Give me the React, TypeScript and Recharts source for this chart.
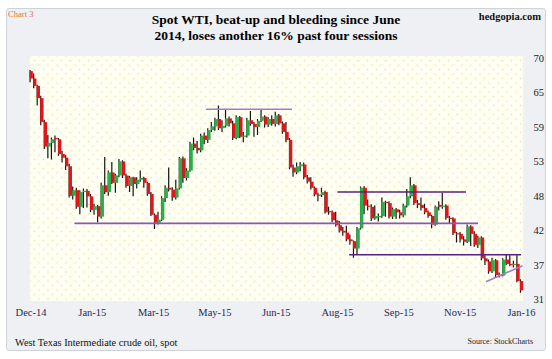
import React from "react";
import { ComposedChart, Bar, XAxis, YAxis, ReferenceLine } from "recharts";

// two-session candles, Dec-14 .. Jan-16
const opens = [
  68.2, 67.0, 65.8, 63.8, 59.9, 55.9, 56.5, 57.3, 57.1, 54.7,
  54.1, 52.7, 47.9, 48.8, 46.1, 48.5, 48.7, 47.8, 45.6, 46.2,
  44.5, 49.6, 48.5, 51.7, 50.0, 51.2, 53.5, 51.2, 49.5, 50.9,
  49.8, 50.5, 50.8, 50.0, 48.2, 44.8, 43.5, 44.0, 47.5, 49.2,
  48.9, 47.6, 49.1, 54.0, 50.8, 52.0, 56.4, 55.7, 55.3, 57.7,
  57.0, 58.6, 59.2, 60.4, 58.9, 59.3, 60.5, 59.7, 57.3, 60.7,
  57.5, 57.7, 60.2, 59.6, 59.1, 60.1, 60.8, 59.5, 60.4, 59.6,
  61.0, 59.7, 58.3, 57.0, 52.5, 51.7, 52.7, 53.0, 50.9, 50.2,
  49.2, 48.1, 48.0, 48.5, 45.4, 45.2, 43.9, 43.1, 42.2, 41.9,
  40.8, 40.5, 39.3, 42.6, 49.2, 46.3, 46.1, 44.2, 44.4, 44.6,
  46.9, 46.7, 44.5, 45.7, 45.2, 44.7, 46.3, 47.8, 49.6, 46.7,
  46.4, 45.9, 45.2, 44.6, 43.2, 46.4, 46.1, 46.3, 44.3, 44.2,
  41.8, 41.7, 40.8, 40.4, 42.9, 41.7, 39.9, 41.1, 37.7, 37.2,
  35.6, 37.4, 35.0, 34.9, 37.5, 36.8, 36.6, 36.8, 34.0,
];
const highs = [
  68.4, 67.8, 66.0, 64.2, 60.3, 57.8, 57.4, 57.7, 57.3, 55.2,
  54.5, 53.1, 49.4, 49.2, 48.8, 49.1, 49.0, 48.2, 46.6, 46.4,
  50.0, 54.2, 52.0, 53.4, 51.5, 53.9, 53.7, 51.5, 51.1, 51.0,
  50.9, 52.0, 51.0, 50.2, 48.5, 45.0, 45.3, 47.8, 49.6, 52.5,
  49.3, 50.5, 54.2, 54.3, 52.4, 56.7, 57.4, 56.8, 58.0, 58.2,
  58.9, 59.9, 60.6, 62.6, 60.2, 61.9, 60.8, 60.1, 61.0, 60.9,
  58.3, 60.6, 61.7, 59.9, 60.4, 61.9, 61.0, 60.7, 61.0, 61.6,
  61.2, 60.0, 59.9, 57.3, 53.0, 53.3, 53.4, 53.3, 51.3, 50.9,
  49.4, 48.4, 49.2, 48.7, 46.1, 45.5, 45.3, 43.8, 42.8, 43.0,
  41.6, 40.6, 42.8, 49.4, 49.5, 47.3, 46.5, 46.3, 45.0, 47.6,
  47.1, 47.0, 46.0, 45.9, 45.6, 46.6, 49.0, 50.9, 49.8, 47.2,
  47.6, 46.6, 45.5, 44.8, 46.3, 47.0, 48.4, 46.5, 44.6, 44.4,
  42.0, 42.0, 41.3, 43.2, 43.1, 42.1, 41.4, 41.3, 38.2, 37.5,
  37.8, 37.6, 35.4, 37.7, 38.3, 38.2, 37.3, 38.2, 34.3,
];
const lows = [
  66.4, 65.4, 62.6, 59.4, 55.5, 54.0, 53.8, 55.0, 54.4, 53.3,
  52.1, 47.6, 47.3, 45.8, 44.9, 45.9, 46.0, 45.2, 44.8, 43.6,
  44.2, 48.2, 47.9, 49.8, 48.4, 50.9, 50.8, 49.2, 48.5, 47.8,
  49.1, 50.2, 49.2, 47.9, 44.6, 42.5, 43.2, 43.8, 46.9, 48.6,
  47.1, 47.3, 48.9, 50.0, 50.4, 51.8, 55.3, 54.8, 55.0, 56.3,
  56.5, 58.3, 58.5, 58.6, 58.3, 59.0, 59.2, 57.0, 57.1, 57.3,
  56.6, 57.4, 59.3, 57.5, 57.8, 59.9, 59.0, 59.1, 59.3, 59.2,
  59.4, 58.0, 56.6, 52.2, 51.0, 51.4, 51.9, 50.6, 49.9, 48.9,
  47.8, 47.0, 47.7, 45.0, 44.8, 43.6, 42.9, 41.9, 41.4, 40.5,
  39.9, 37.8, 38.3, 42.4, 44.9, 45.5, 43.8, 44.0, 43.7, 44.3,
  44.5, 44.2, 44.1, 44.1, 44.2, 44.4, 46.0, 47.5, 46.4, 45.9,
  45.5, 44.9, 44.3, 42.6, 43.0, 45.5, 45.8, 44.0, 43.3, 41.5,
  40.3, 40.3, 39.8, 40.2, 39.7, 39.6, 39.4, 37.4, 36.6, 35.2,
  35.3, 34.6, 34.6, 34.8, 36.6, 36.4, 36.2, 33.8, 32.1,
];
const closes = [
  67.0, 65.8, 63.8, 59.9, 55.9, 56.5, 57.1, 57.1, 54.7, 54.1,
  52.7, 47.9, 48.8, 46.1, 48.5, 48.7, 47.8, 45.6, 46.2, 44.5,
  49.6, 48.5, 51.7, 50.0, 51.2, 53.5, 51.2, 49.5, 50.9, 49.8,
  50.5, 50.8, 50.0, 48.2, 44.8, 43.5, 44.0, 47.5, 49.2, 48.9,
  47.6, 49.1, 54.0, 50.8, 52.0, 56.4, 55.7, 55.3, 57.7, 57.0,
  58.6, 59.2, 60.4, 58.9, 59.3, 60.5, 59.7, 57.3, 60.7, 57.5,
  57.7, 60.2, 59.6, 59.1, 60.1, 60.8, 59.5, 60.4, 59.6, 61.0,
  59.7, 58.3, 57.0, 52.5, 51.7, 52.7, 53.0, 50.9, 50.2, 49.2,
  48.1, 48.0, 48.5, 45.2, 45.2, 43.9, 43.1, 42.2, 41.9, 40.8,
  40.5, 39.3, 42.6, 49.2, 46.3, 46.1, 44.2, 44.6, 44.6, 46.9,
  46.7, 44.5, 45.7, 45.2, 44.7, 46.3, 47.8, 49.6, 46.7, 46.4,
  45.9, 45.2, 44.6, 43.2, 46.1, 46.1, 46.3, 44.3, 44.2, 41.8,
  41.7, 40.8, 40.4, 42.9, 41.7, 39.9, 41.1, 37.7, 37.2, 35.6,
  37.4, 35.0, 34.9, 37.5, 36.8, 36.6, 36.8, 34.0, 32.5,
];

const xTickLabels = ["Dec-14", "Jan-15", "Mar-15", "May-15", "Jun-15", "Aug-15", "Sep-15", "Nov-15", "Jan-16"];
const yTickValues = [31, 36.62, 42.24, 47.86, 53.48, 59.1, 64.72, 70.34];

// hand-drawn support / resistance lines (candle index, price)
const trendLines = [
  { x1: 12.2, y1: 43.4, x2: 125.8, y2: 43.4, color: "#8a58b4" },
  { x1: 49.2, y1: 62.0, x2: 73.4, y2: 62.0, color: "#a27cc6" },
  { x1: 86.2, y1: 48.5, x2: 122.4, y2: 48.5, color: "#5a1f80" },
  { x1: 89.5, y1: 38.3, x2: 137.9, y2: 38.3, color: "#5a1f80" },
  { x1: 128.0, y1: 33.9, x2: 138.3, y2: 36.5, color: "#a27cc6" },
];

const FONT = '"Liberation Serif", "DejaVu Serif", serif';

const data = opens.map((o, i) => ({
  i,
  o,
  h: highs[i],
  l: lows[i],
  c: closes[i],
  range: [lows[i], highs[i]],
}));

const xTicks = xTickLabels.map((_, k) => (k * (opens.length - 1)) / (xTickLabels.length - 1));

const Candle = (props: any) => {
  const { x, y, width, height, payload } = props;
  if (!payload) return null;
  const { o, h, l, c } = payload;
  const top = Math.min(y, y + height);
  const hh = Math.abs(height);
  const cx = x + width / 2;
  const k = h === l ? 0 : hh / (h - l);
  const yO = top + (h - o) * k;
  const yC = top + (h - c) * k;
  const bodyTop = Math.min(yO, yC);
  const bodyH = Math.max(Math.abs(yC - yO), 1.2);
  const up = c >= o;
  return (
    <g>
      <line x1={cx - 0.7} x2={cx - 0.7} y1={top} y2={top + hh} stroke="#141414" strokeWidth={1.2} />
      <rect x={cx - 1.2} y={bodyTop} width={3.3} height={bodyH} fill={up ? "#2aae4a" : "#df161b"} />
    </g>
  );
};

export default function App() {
  return (
    <div style={{ position: "relative", width: 552, height: 359, background: "#fff", fontFamily: FONT }}>
      <style>{`body{margin:0}`}</style>
      <div
        style={{
          position: "absolute",
          left: 6,
          top: 8,
          width: 538,
          height: 341,
          border: "1px solid #cfd2d8",
          borderRadius: 3,
          background: "#eef0f4",
        }}
      />
      <div
        style={{
          position: "absolute",
          left: 30,
          top: 56,
          width: 493,
          height: 245,
          backgroundColor: "#fffff4",
          backgroundImage:
            "radial-gradient(circle at center, #efe6ad 0.75px, rgba(255,255,255,0) 1.15px), radial-gradient(circle at center, #efe6ad 0.75px, rgba(255,255,255,0) 1.15px)",
          backgroundSize: "9px 9px, 9px 9px",
          backgroundPosition: "0 0, 4.5px 4.5px",
        }}
      />
      <div style={{ position: "absolute", left: 0, top: 0 }}>
        <ComposedChart
          width={552}
          height={359}
          data={data}
          margin={{ top: 58, right: 0, left: 30, bottom: 39.5 }}
        >
          <XAxis
            dataKey="i"
            type="number"
            domain={[-0.3, opens.length - 0.7]}
            ticks={xTicks}
            interval={0}
            tickFormatter={(v: number) => xTickLabels[xTicks.findIndex((t) => Math.abs(t - v) < 0.01)] ?? ""}
            tickLine={false}
            axisLine={false}
            tickMargin={3}
            height={20}
            tick={{ fill: "#1d2b57", fontSize: 10.5, fontFamily: FONT }}
          />
          <YAxis
            orientation="right"
            type="number"
            domain={[31, 70.34]}
            ticks={yTickValues}
            interval={0}
            allowDataOverflow
            tickFormatter={(v: number) => String(Math.round(v))}
            tickLine={false}
            axisLine={false}
            tickMargin={5}
            width={29.5}
            tick={{ fill: "#222", fontSize: 10.5, fontFamily: FONT }}
          />
          {trendLines.map((t, k) => (
            <ReferenceLine
              key={k}
              segment={[
                { x: t.x1, y: t.y1 },
                { x: t.x2, y: t.y2 },
              ]}
              stroke={t.color}
              strokeWidth={1.6}
              ifOverflow="visible"
            />
          ))}
          <Bar dataKey="range" barSize={3} shape={<Candle />} isAnimationActive={false} />
        </ComposedChart>
      </div>
      <div style={{ position: "absolute", left: 8, top: 9, fontSize: 8.6, lineHeight: "10px", color: "#e0743a" }}>
        Chart 3
      </div>
      <div
        style={{
          position: "absolute",
          right: 11,
          top: 10.5,
          fontSize: 10.5,
          lineHeight: "12px",
          fontWeight: "bold",
          color: "#111",
        }}
      >
        hedgopia.com
      </div>
      <div
        style={{
          position: "absolute",
          left: 76,
          width: 400,
          top: 12,
          textAlign: "center",
          fontSize: 13.5,
          lineHeight: "16px",
          fontWeight: "bold",
          color: "#000",
        }}
      >
        Spot WTI, beat-up and bleeding since June
        <br />
        2014, loses another 16% past four sessions
      </div>
      <div style={{ position: "absolute", left: 15, top: 337, fontSize: 10.3, lineHeight: "12px", color: "#111" }}>
        West Texas Intermediate crude oil, spot
      </div>
      <div style={{ position: "absolute", right: 19, top: 337, fontSize: 8, lineHeight: "10px", color: "#222" }}>
        Source: StockCharts
      </div>
    </div>
  );
}
